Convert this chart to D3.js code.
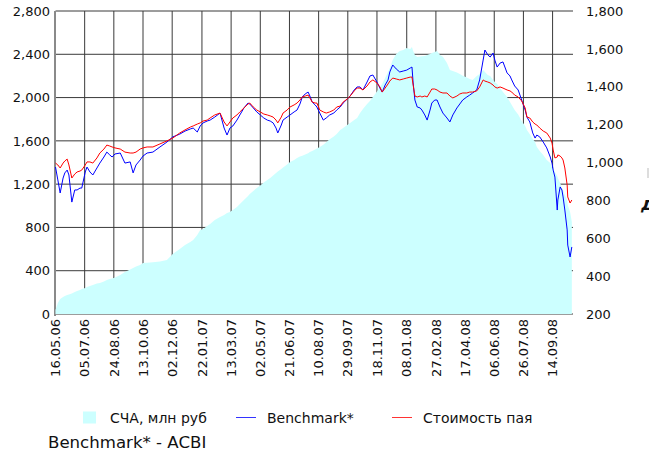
<!DOCTYPE html>
<html>
<head>
<meta charset="utf-8">
<script src="https://cdn.jsdelivr.net/npm/d3@7"></script>
<style>
  body { margin: 0; background: #fff; }
  text { font-family: "DejaVu Sans", Verdana, sans-serif; fill: #111; }
</style>
</head>
<body>
<div id="chart"></div>
<script>
/**
 * CONSTANTS AND GLOBALS
 * */
const width = 649,
  height = 453,
  margin = { top: 11, bottom: 139, left: 55.5, right: 76 };

// dates of the readings
const dates = [
  "2006-05-16","2006-05-20","2006-05-24","2006-05-29","2006-06-01","2006-06-05","2006-06-08","2006-06-13",
  "2006-06-18","2006-06-22","2006-06-27","2006-06-30","2006-07-06","2006-07-09","2006-07-14","2006-07-19",
  "2006-07-26","2006-07-31","2006-08-07","2006-08-12","2006-08-17","2006-08-21","2006-08-26","2006-09-04",
  "2006-09-12","2006-09-21","2006-09-26","2006-10-01","2006-10-08","2006-10-13","2006-10-20","2006-10-30",
  "2006-11-11","2006-11-23","2006-12-03","2006-12-15","2006-12-24","2007-01-02","2007-01-07","2007-01-14",
  "2007-01-19","2007-01-24","2007-01-31","2007-02-05","2007-02-13","2007-02-22","2007-03-01","2007-03-06",
  "2007-03-11","2007-03-16","2007-03-23","2007-03-28","2007-04-04","2007-04-11","2007-04-14","2007-04-20",
  "2007-04-26","2007-05-02","2007-05-08","2007-05-14","2007-05-19","2007-05-24","2007-05-29","2007-06-01",
  "2007-06-07","2007-06-10","2007-06-17","2007-06-22","2007-06-29","2007-07-04","2007-07-09","2007-07-13",
  "2007-07-18","2007-07-23","2007-07-26","2007-07-30","2007-08-04","2007-08-07","2007-08-12","2007-08-18",
  "2007-08-23","2007-08-29","2007-09-05","2007-09-10","2007-09-16","2007-09-21","2007-09-28","2007-10-03",
  "2007-10-10","2007-10-15","2007-10-20","2007-10-25","2007-11-01","2007-11-06","2007-11-11","2007-11-18",
  "2007-11-23","2007-11-27","2007-12-02","2007-12-07","2007-12-10","2007-12-15","2007-12-21","2007-12-27",
  "2008-01-02","2008-01-08","2008-01-14","2008-01-17","2008-01-19","2008-01-22","2008-01-26","2008-01-31",
  "2008-02-03","2008-02-08","2008-02-12","2008-02-17","2008-02-20","2008-02-25","2008-02-29","2008-03-05",
  "2008-03-10","2008-03-17","2008-03-22","2008-03-27","2008-04-03","2008-04-08","2008-04-13","2008-04-20",
  "2008-04-25","2008-04-30","2008-05-07","2008-05-12","2008-05-18","2008-05-21","2008-05-26","2008-05-30",
  "2008-06-04","2008-06-07","2008-06-11","2008-06-16","2008-06-21","2008-06-28","2008-07-03","2008-07-06",
  "2008-07-11","2008-07-17","2008-07-23","2008-07-29","2008-08-01","2008-08-06","2008-08-11","2008-08-15",
  "2008-08-18","2008-08-23","2008-08-29","2008-09-04","2008-09-10","2008-09-13","2008-09-15","2008-09-18",
  "2008-09-22","2008-09-23","2008-09-27","2008-09-30","2008-10-02","2008-10-05","2008-10-09","2008-10-10",
  "2008-10-14","2008-10-17"
];

// СЧА, млн руб (left axis)
const nav = [
  37,102,139,157,166,176,180,189, 203,213,222,231,240,250,259,268,
  282,286,300,314,323,328,337,360, 388,411,425,439,453,471,474,479,
  485,499,554,601,638,665,684,730, 776,785,813,832,869,896,915,933,
  943,961,989,1017,1053,1090,1109,1137, 1164,1187,1215,1238,1257,1280,1303,1317,
  1340,1354,1382,1405,1423,1442,1455,1462, 1474,1486,1497,1506,1520,1529,1543,1565,
  1586,1614,1640,1663,1700,1719,1747,1765, 1793,1811,1857,1894,1941,1968,2005,2057,
  2098,2125,2181,2236,2273,2347,2403,2430, 2440,2458,2449,2467,2430,2393,2375,2379,
  2381,2384,2393,2403,2412,2421,2430,2393, 2377,2320,2255,2245,2231,2218,2201,2186,
  2172,2162,2199,2218,2255,2236,2208,2199, 2162,2144,2125,2088,2052,2005,1959,1931,
  1885,1843,1784,1737,1700,1660,1617,1589, 1543,1506,1469,1423,1395,1358,1340,1312,
  1275,1257,1211,1164,1146,1100,1053,1007, 943,850
];

// Benchmark* (right axis)
const benchmark = [
  976,908,839,918,945,960,934,791, 855,855,865,865,950,976,950,934,
  971,997,1029,1055,1040,1029,1045,1050, 997,1003,945,987,1013,1034,1050,1055,
  1082,1108,1135,1150,1166,1177,1182,1161, 1193,1209,1219,1224,1240,1261,1182,1145,
  1182,1193,1224,1251,1288,1314,1309,1288, 1267,1251,1235,1224,1219,1209,1182,1156,
  1198,1224,1240,1251,1267,1277,1309,1346, 1362,1372,1351,1319,1304,1293,1261,1224,
  1235,1251,1261,1277,1293,1314,1335,1351, 1383,1399,1399,1383,1425,1457,1462,1425,
  1393,1372,1409,1436,1478,1515,1494,1478, 1483,1488,1499,1504,1420,1330,1293,1288,
  1277,1251,1224,1277,1314,1330,1330,1293, 1261,1235,1214,1251,1288,1309,1330,1346,
  1356,1367,1383,1436,1541,1594,1568,1557, 1578,1541,1504,1525,1531,1473,1457,1436,
  1404,1383,1330,1277,1240,1214,1156,1129, 1145,1135,1108,1077,1029,997,960,923,
  749,802,871,855,818,749,644,564, 501,554
];

// Стоимость пая (right axis)
const unitPrice = [
  997,987,971,997,1008,1018,987,918, 939,950,955,960,987,1003,1003,997,
  1024,1050,1071,1092,1087,1082,1077,1071, 1055,1050,1050,1055,1071,1077,1082,1082,
  1098,1114,1129,1156,1172,1187,1193,1203, 1209,1219,1224,1235,1251,1261,1214,1193,
  1214,1235,1251,1267,1288,1309,1314,1293, 1277,1267,1256,1251,1246,1240,1224,1209,
  1240,1261,1277,1293,1304,1314,1330,1346, 1351,1356,1341,1319,1314,1314,1277,1267,
  1261,1267,1277,1293,1298,1319,1335,1351, 1378,1393,1393,1383,1404,1425,1436,1420,
  1399,1372,1393,1415,1430,1446,1441,1436, 1441,1446,1451,1451,1409,1351,1346,1351,
  1346,1351,1346,1372,1388,1388,1383,1372, 1367,1367,1351,1341,1351,1362,1367,1367,
  1372,1372,1378,1399,1436,1430,1425,1420, 1409,1399,1393,1399,1393,1383,1378,1372,
  1356,1346,1325,1288,1240,1235,1214,1203, 1198,1182,1166,1156,1129,1103,1066,1024,
  1029,1040,1034,1024,1013,971,881,818, 786,802
];

// tick labels
const xTickLabels = ["16.05.06","05.07.06","24.08.06","13.10.06","02.12.06","22.01.07","13.03.07","02.05.07",
  "21.06.07","10.08.07","29.09.07","18.11.07","08.01.08","27.02.08","17.04.08","06.06.08","26.07.08","14.09.08"];
const leftTicks = [0, 400, 800, 1200, 1600, 2000, 2400, 2800];
const rightTicks = [200, 400, 600, 800, 1000, 1200, 1400, 1600, 1800];

const legendItems = [
  { label: "СЧА, млн руб", type: "area", color: "#ccffff" },
  { label: "Benchmark*", type: "line", color: "#3333ff" },
  { label: "Стоимость пая", type: "line", color: "#ff3333" }
];

const parseISO = d3.timeParse("%Y-%m-%d");
const parseLabel = d3.timeParse("%d.%m.%y");

const rows = dates.map((d, i) => ({
  date: parseISO(d),
  nav: nav[i],
  bench: benchmark[i],
  unit: unitPrice[i]
}));

/**
 * SCALES
 * */
const x = d3.scaleTime()
  .domain([parseISO("2006-05-16"), parseISO("2008-10-19")])
  .range([margin.left, width - margin.right]);

const yLeft = d3.scaleLinear()
  .domain([0, 2800])
  .range([height - margin.bottom, margin.top]);

const yRight = d3.scaleLinear()
  .domain([200, 1800])
  .range([height - margin.bottom, margin.top]);

const svg = d3.select("#chart")
  .append("svg")
  .attr("width", width)
  .attr("height", height);

svg.append("rect")
  .attr("width", width)
  .attr("height", height)
  .attr("fill", "#fff");

// grid
svg.append("g")
  .selectAll("line")
  .data(leftTicks)
  .join("line")
  .attr("x1", margin.left)
  .attr("x2", width - margin.right)
  .attr("y1", d => yLeft(d))
  .attr("y2", d => yLeft(d))
  .attr("stroke", "#3a3a3a")
  .attr("stroke-width", 1);

svg.append("g")
  .selectAll("line")
  .data(xTickLabels.slice(1))
  .join("line")
  .attr("x1", d => x(parseLabel(d)))
  .attr("x2", d => x(parseLabel(d)))
  .attr("y1", margin.top)
  .attr("y2", height - margin.bottom)
  .attr("stroke", "#3a3a3a")
  .attr("stroke-width", 1);

// left axis line
svg.append("line")
  .attr("x1", 55)
  .attr("x2", 55)
  .attr("y1", margin.top)
  .attr("y2", height - margin.bottom + 2)
  .attr("stroke", "#8a8a8a")
  .attr("stroke-width", 2);

// СЧА area
const area = d3.area()
  .x(d => x(d.date))
  .y0(yLeft(0))
  .y1(d => yLeft(d.nav));

svg.append("path")
  .datum(rows)
  .attr("d", area)
  .attr("fill", "#ccffff");

// lines
const benchLine = d3.line()
  .x(d => x(d.date))
  .y(d => yRight(d.bench));

const unitLine = d3.line()
  .x(d => x(d.date))
  .y(d => yRight(d.unit));

svg.append("path")
  .datum(rows)
  .attr("d", benchLine)
  .attr("fill", "none")
  .attr("stroke", "#0000ff")
  .attr("stroke-width", 1);

svg.append("path")
  .datum(rows)
  .attr("d", unitLine)
  .attr("fill", "none")
  .attr("stroke", "#ff0000")
  .attr("stroke-width", 1);

// left labels
svg.append("g")
  .selectAll("text")
  .data(leftTicks)
  .join("text")
  .attr("x", 50)
  .attr("y", d => yLeft(d))
  .attr("dy", "0.36em")
  .attr("text-anchor", "end")
  .style("font-size", "13px")
  .text(d => d3.format(",")(d));

// right labels
svg.append("g")
  .selectAll("text")
  .data(rightTicks)
  .join("text")
  .attr("x", 586)
  .attr("y", d => yRight(d))
  .attr("dy", "0.36em")
  .attr("text-anchor", "start")
  .style("font-size", "13px")
  .text(d => d3.format(",")(d));

// x labels
svg.append("g")
  .selectAll("text")
  .data(xTickLabels)
  .join("text")
  .attr("transform", d => `translate(${x(parseLabel(d))},${height - margin.bottom + 5}) rotate(-90)`)
  .attr("dy", "0.36em")
  .attr("text-anchor", "end")
  .style("font-size", "13px")
  .text(d => d);

// legend
const legendX = [83, 236, 392];
const legend = svg.append("g")
  .selectAll("g")
  .data(legendItems)
  .join("g")
  .attr("transform", (d, i) => `translate(${legendX[i]},0)`);

legend.filter(d => d.type === "area")
  .append("rect")
  .attr("x", 0)
  .attr("y", 411.5)
  .attr("width", 13)
  .attr("height", 12)
  .attr("fill", d => d.color);

legend.filter(d => d.type === "line")
  .append("line")
  .attr("x1", 0)
  .attr("x2", 20)
  .attr("y1", 417.5)
  .attr("y2", 417.5)
  .attr("stroke", d => d.color)
  .attr("stroke-width", 1);

legend.append("text")
  .attr("x", (d, i) => [27, 31, 31][i])
  .attr("y", 423)
  .style("font-size", "14px")
  .text(d => d.label);

svg.append("text")
  .attr("x", 48)
  .attr("y", 447.5)
  .style("font-size", "16.6px")
  .text("Benchmark* - ACBI");

// clipped text at the right edge
svg.append("rect")
  .attr("x", 647)
  .attr("y", 168)
  .attr("width", 2)
  .attr("height", 10)
  .attr("fill", "#dddddd");

svg.append("text")
  .attr("x", 641)
  .attr("y", 210)
  .style("font-size", "18px")
  .style("font-weight", "bold")
  .style("font-style", "italic")
  .text("д");
</script>
</body>
</html>
